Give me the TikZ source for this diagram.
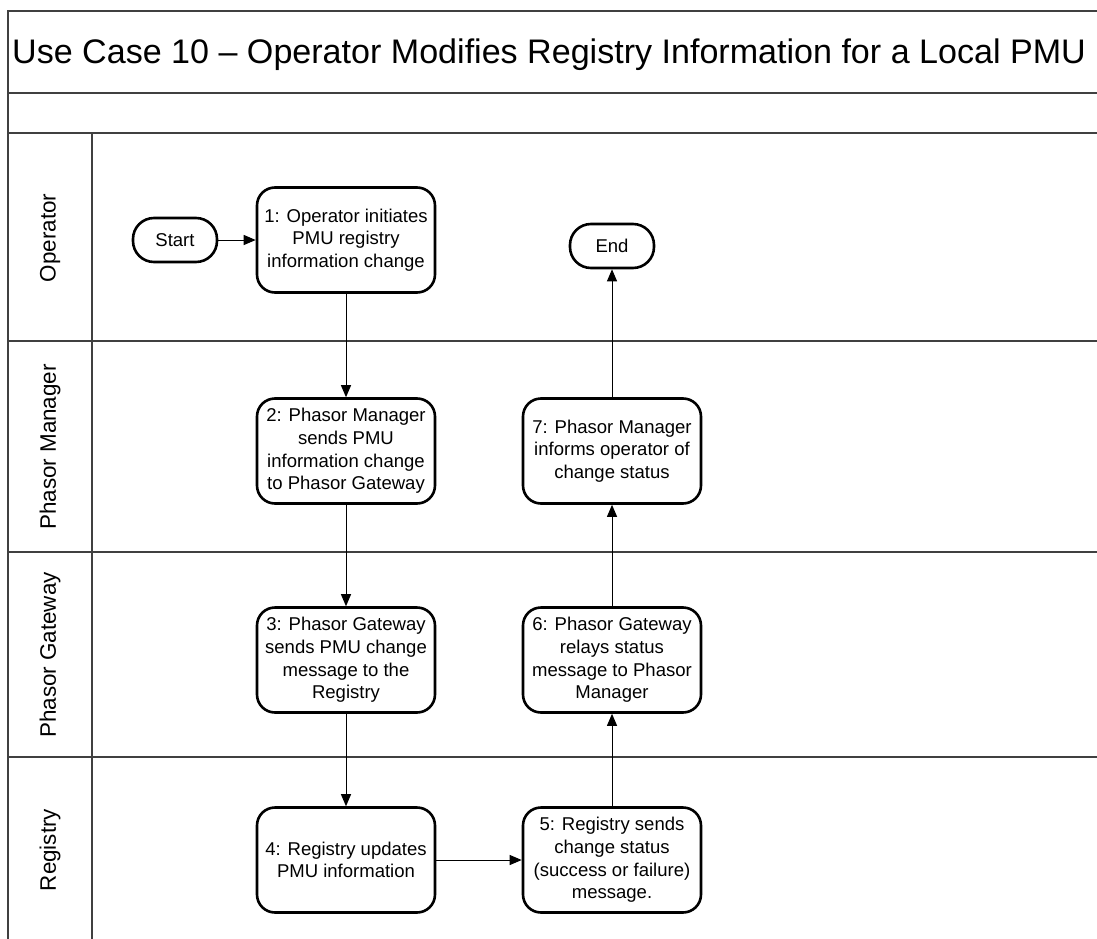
\documentclass[tikz,border=0pt]{standalone}
\usepackage{fontspec}
\setmainfont{Liberation Sans}
\usetikzlibrary{arrows.meta}
\begin{document}
\begin{tikzpicture}[x=1bp,y=-1bp,
  lane/.style={draw=black!75, line width=1.6bp},
  proc/.style={draw=black, line width=2.6bp, rounded corners=18bp, fill=white,
    minimum width=178bp, minimum height=105bp, align=center,
    font=\fontsize{18.6}{22.7}\selectfont, inner sep=2bp},
  term/.style={draw=black, line width=2.6bp, rounded corners=21bp, fill=white,
    minimum width=84bp, minimum height=44bp, align=center,
    font=\fontsize{18.6}{22.7}\selectfont, inner sep=2bp},
  lanelabel/.style={rotate=90, font=\fontsize{22.5}{26}\selectfont, inner sep=0pt},
  flow/.style={draw=black, line width=1bp, -{Triangle[length=12bp,width=10bp]}}
]
\useasboundingbox (0,0) rectangle (1097,939);
% frame
\coordinate (tl) at (8,11);
\coordinate (tr) at (1100,11);
\coordinate (bl) at (8,942);
\draw[lane] (tr) -- (tl) -- (bl);
\draw[lane] (8,93) -- (1100,93);
\draw[lane] (8,133) -- (1100,133);
\draw[lane] (92,133) -- (92,942);
\draw[lane] (8,341) -- (1100,341);
\draw[lane] (8,552) -- (1100,552);
\draw[lane] (8,757) -- (1100,757);
% title
\node[anchor=west, inner sep=0pt, font=\fontsize{34.2}{40}\selectfont] (title) at (12,55)
  {Use Case 10 – Operator Modifies Registry Information for a Local PMU};
% lane labels
\node[lanelabel] (lop) at (50,238) {Operator};
\node[lanelabel] (lpm) at (50,447) {Phasor Manager};
\node[lanelabel] (lpg) at (50,655) {Phasor Gateway};
\node[lanelabel] (lrg) at (50,850) {Registry};
% nodes
\node[term] (start) at (175,240) {Start};
\node[proc] (s1) at (346,240) {1: Operator initiates\\PMU registry\\information change};
\node[term] (end) at (612,246) {End};
\node[proc] (s2) at (346,451) {2: Phasor Manager\\sends PMU\\information change\\to Phasor Gateway};
\node[proc] (s7) at (612,451) {7: Phasor Manager\\informs operator of\\change status};
\node[proc] (s3) at (346,660) {3: Phasor Gateway\\sends PMU change\\message to the\\Registry};
\node[proc] (s6) at (612,660) {6: Phasor Gateway\\relays status\\message to Phasor\\Manager};
\node[proc] (s4) at (346,860) {4: Registry updates\\PMU information};
\node[proc] (s5) at (612,860) {5: Registry sends\\change status\\(success or failure)\\message.};
% connectors
\draw[flow] (start) -- (s1);
\draw[flow] (s1) -- (s2);
\draw[flow] (s2) -- (s3);
\draw[flow] (s3) -- (s4);
\draw[flow] (s4) -- (s5);
\draw[flow] (s5) -- (s6);
\draw[flow] (s6) -- (s7);
\draw[flow] (s7) -- (end);
\end{tikzpicture}
\end{document}
